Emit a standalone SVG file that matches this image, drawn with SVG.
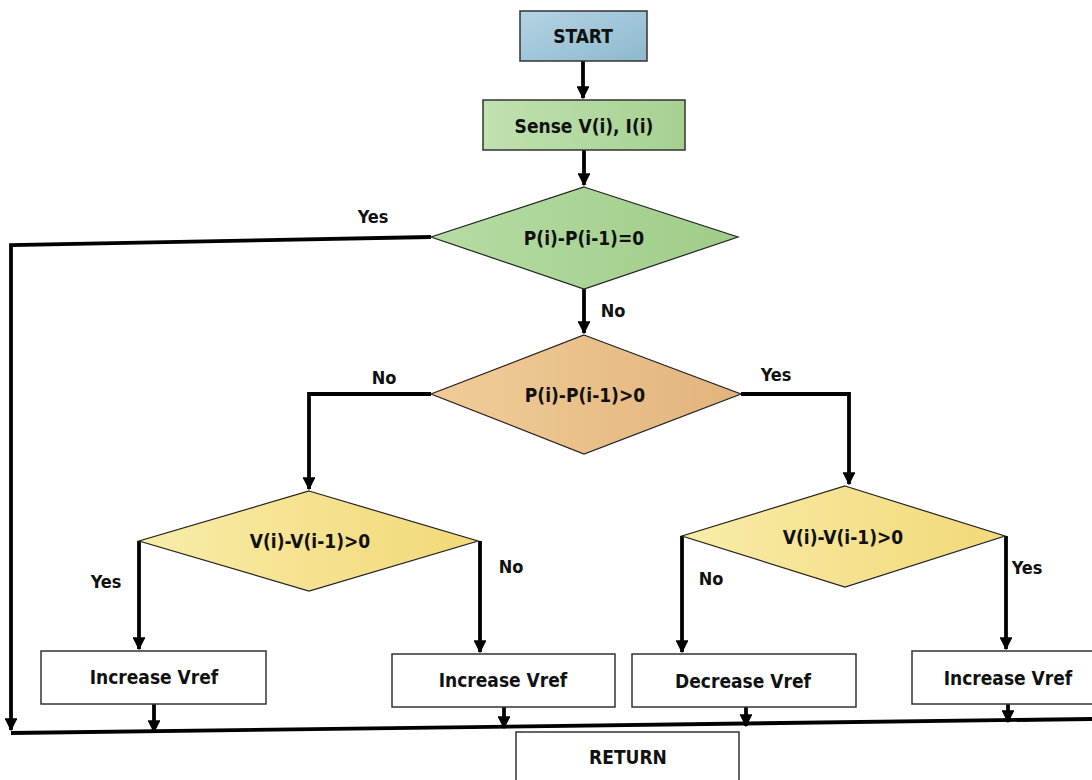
<svg xmlns="http://www.w3.org/2000/svg" width="1092" height="780" viewBox="0 0 1092 780">
<style>
text{font-family:"Liberation Sans Narrow","DejaVu Sans Condensed","Liberation Sans",sans-serif;font-weight:bold;font-size:19px;fill:#111;text-anchor:middle;dominant-baseline:central}
.lbl{font-size:18px}
.box{stroke:#333;stroke-width:1.5}
.dia{stroke:#222;stroke-width:1.2}
.ln{fill:none;stroke:#000;stroke-width:3.8}
</style>
<defs>
<marker id="ah" viewBox="0 0 10 10" refX="9" refY="5" markerWidth="3.4" markerHeight="3.4" orient="auto" markerUnits="strokeWidth"><path d="M0,0 L10,5 L0,10 z" fill="#000"/></marker>
<linearGradient id="gBlue" x1="0" y1="0" x2="1" y2="1"><stop offset="0" stop-color="#b3d4e4"/><stop offset="1" stop-color="#8fb8cd"/></linearGradient>
<linearGradient id="gGreen" x1="0" y1="0" x2="1" y2="0"><stop offset="0" stop-color="#c0e1b0"/><stop offset="1" stop-color="#a6d191"/></linearGradient>
<linearGradient id="gGreenD" x1="0" y1="0" x2="1" y2="0"><stop offset="0" stop-color="#b6dca4"/><stop offset="1" stop-color="#9ecd88"/></linearGradient>
<linearGradient id="gOrange" x1="0" y1="0" x2="1" y2="0"><stop offset="0" stop-color="#f1cc98"/><stop offset="1" stop-color="#e2b47c"/></linearGradient>
<linearGradient id="gYellow" x1="0" y1="0" x2="1" y2="0"><stop offset="0" stop-color="#f8eca8"/><stop offset="1" stop-color="#f2d978"/></linearGradient>
</defs>

<g id="connectors">
<path class="ln" d="M583,61 V98" marker-end="url(#ah)"/>
<path class="ln" d="M584,150 V185" marker-end="url(#ah)"/>
<path class="ln" d="M431,237 L11,245 V730" marker-end="url(#ah)"/>
<path class="ln" d="M584,289 V333" marker-end="url(#ah)"/>
<path class="ln" d="M431,394 H309 V489" marker-end="url(#ah)"/>
<path class="ln" d="M741,394 H849 V484" marker-end="url(#ah)"/>
<path class="ln" d="M139,541 V649" marker-end="url(#ah)"/>
<path class="ln" d="M480,541 V652" marker-end="url(#ah)"/>
<path class="ln" d="M682,536 V652" marker-end="url(#ah)"/>
<path class="ln" d="M1006,536 V649" marker-end="url(#ah)"/>
<path class="ln" d="M11,733 L1092,719"/>
<path class="ln" d="M154,704 V732" marker-end="url(#ah)"/>
<path class="ln" d="M504,707 V728" marker-end="url(#ah)"/>
<path class="ln" d="M746,707 V726" marker-end="url(#ah)"/>
<path class="ln" d="M1008,704 V722" marker-end="url(#ah)"/>
<text class="lbl" x="373" y="216">Yes</text>
<text class="lbl" x="613" y="310">No</text>
<text class="lbl" x="384" y="377">No</text>
<text class="lbl" x="776" y="374">Yes</text>
<text class="lbl" x="106" y="581">Yes</text>
<text class="lbl" x="511" y="566">No</text>
<text class="lbl" x="711" y="578">No</text>
<text class="lbl" x="1027" y="567">Yes</text>
</g>

<g id="start"><rect class="box" x="520" y="11" width="127" height="50" fill="url(#gBlue)"/><text x="583" y="36">START</text></g>
<g id="sense"><rect class="box" x="483" y="100" width="202" height="50" fill="url(#gGreen)"/><text x="584" y="126">Sense V(i), I(i)</text></g>
<g id="dec1"><polygon class="dia" points="584,187 738,237 584,289 431,237" fill="url(#gGreenD)"/><text x="584" y="238">P(i)-P(i-1)=0</text></g>
<g id="dec2"><polygon class="dia" points="584,335 741,394 584,454 431,394" fill="url(#gOrange)"/><text x="585" y="395">P(i)-P(i-1)&gt;0</text></g>
<g id="dec3"><polygon class="dia" points="309,491 478,541 309,591 139,541" fill="url(#gYellow)"/><text x="310" y="541">V(i)-V(i-1)&gt;0</text></g>
<g id="dec4"><polygon class="dia" points="845,486 1005,536 845,587 682,536" fill="url(#gYellow)"/><text x="843" y="537">V(i)-V(i-1)&gt;0</text></g>
<g id="inc1"><rect class="box" x="41" y="651" width="225" height="53" fill="#fff"/><text x="154" y="677">Increase Vref</text></g>
<g id="inc2"><rect class="box" x="392" y="654" width="223" height="53" fill="#fff"/><text x="503" y="680">Increase Vref</text></g>
<g id="decv"><rect class="box" x="632" y="654" width="224" height="53" fill="#fff"/><text x="743" y="681">Decrease Vref</text></g>
<g id="inc4"><rect class="box" x="912" y="651" width="190" height="53" fill="#fff"/><text x="1008" y="678">Increase Vref</text></g>
<g id="ret"><rect class="box" x="516" y="732" width="223" height="60" fill="#fff"/><text x="628" y="757">RETURN</text></g>
</svg>
